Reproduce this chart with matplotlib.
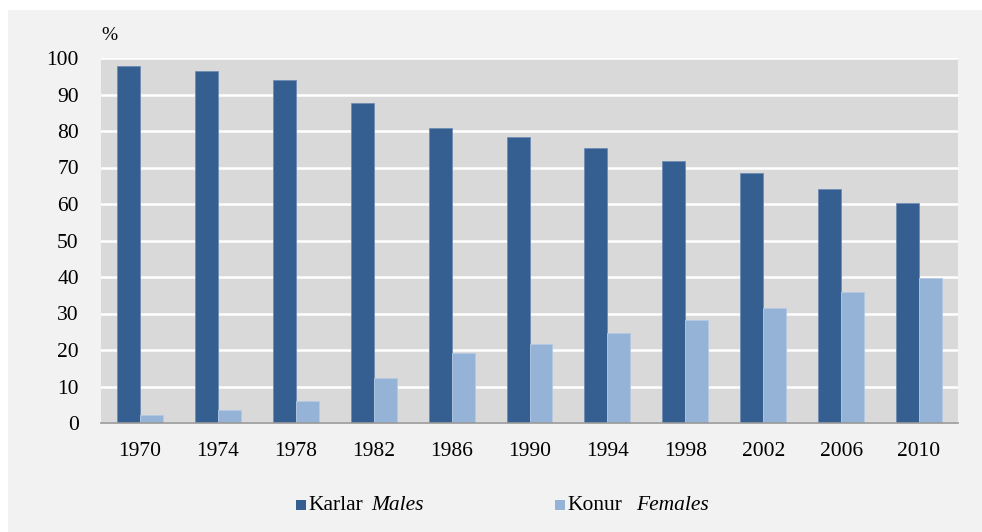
import matplotlib.pyplot as plt
import numpy as np
from matplotlib.patches import Rectangle

years = ["1970", "1974", "1978", "1982", "1986", "1990", "1994", "1998", "2002", "2006", "2010"]
males = [97.7, 96.4, 94.0, 87.6, 80.9, 78.3, 75.3, 71.9, 68.5, 64.1, 60.2]
females = [2.3, 3.6, 6.0, 12.4, 19.1, 21.7, 24.7, 28.1, 31.5, 35.9, 39.8]
yticks = list(range(0, 101, 10))

male_color = "#355f91"
female_color = "#95b3d7"

plt.rcParams["font.family"] = ["Liberation Serif", "DejaVu Serif"]

fig = plt.figure(figsize=(9.82, 5.32), dpi=100)
fig.patch.set_facecolor("white")
fig.patches.append(Rectangle((8 / 982, 0), 1 - 8 / 982, 1 - 10 / 532,
                             transform=fig.transFigure, facecolor="#f2f2f2",
                             edgecolor="none", zorder=-5))

ax = fig.add_axes([101 / 982, 1 - 423 / 532, 857 / 982, 365 / 532])
ax.set_zorder(1)
ax.set_facecolor("#d9d9d9")

x = np.arange(len(years))
w = 0.295
ax.bar(x - w / 2, males, w, color=male_color, edgecolor="#6f8db3", linewidth=0.6, zorder=3)
ax.bar(x + w / 2, females, w, color=female_color, edgecolor="#b4c9e3", linewidth=0.6, zorder=3)

ax.set_xlim(-0.5, len(years) - 0.5)
ax.set_ylim(0, 100)
ax.set_yticks(yticks)
ax.set_yticklabels([str(t) for t in yticks], fontsize=15.5)
ax.set_xticks(x)
ax.set_xticklabels(years, fontsize=15.5)
ax.tick_params(axis="both", length=0)
ax.tick_params(axis="y", pad=16)
ax.tick_params(axis="x", pad=13.5)
ax.grid(axis="y", color="white", linewidth=1.8, zorder=1)
ax.set_axisbelow(True)
for side in ["top", "right", "left"]:
    ax.spines[side].set_visible(False)
ax.spines["bottom"].set_color("#999999")
ax.spines["bottom"].set_linewidth(1.2)
ax.spines["bottom"].set_zorder(4)

fig.text(101 / 982, 1 - 36 / 532, "%", fontsize=14, ha="left", va="center")

# legend drawn by hand so that the English names can be italic
ly = 1 - 505 / 532
sq = 10
for x0, col, tr, en, gap in [(296, male_color, "Karlar", "Males", 63),
                             (555, female_color, "Konur", "Females", 69)]:
    fig.patches.append(Rectangle((x0 / 982, ly - sq / 2 / 532), sq / 982, sq / 532,
                                 transform=fig.transFigure, facecolor=col, edgecolor="none"))
    fig.text((x0 + sq + 2) / 982, ly, tr, fontsize=15.5, ha="left", va="center")
    fig.text((x0 + sq + 2 + gap) / 982, ly, en, fontsize=15.5, style="italic",
             ha="left", va="center")

fig.savefig("out.png", dpi=100, facecolor=fig.get_facecolor())
